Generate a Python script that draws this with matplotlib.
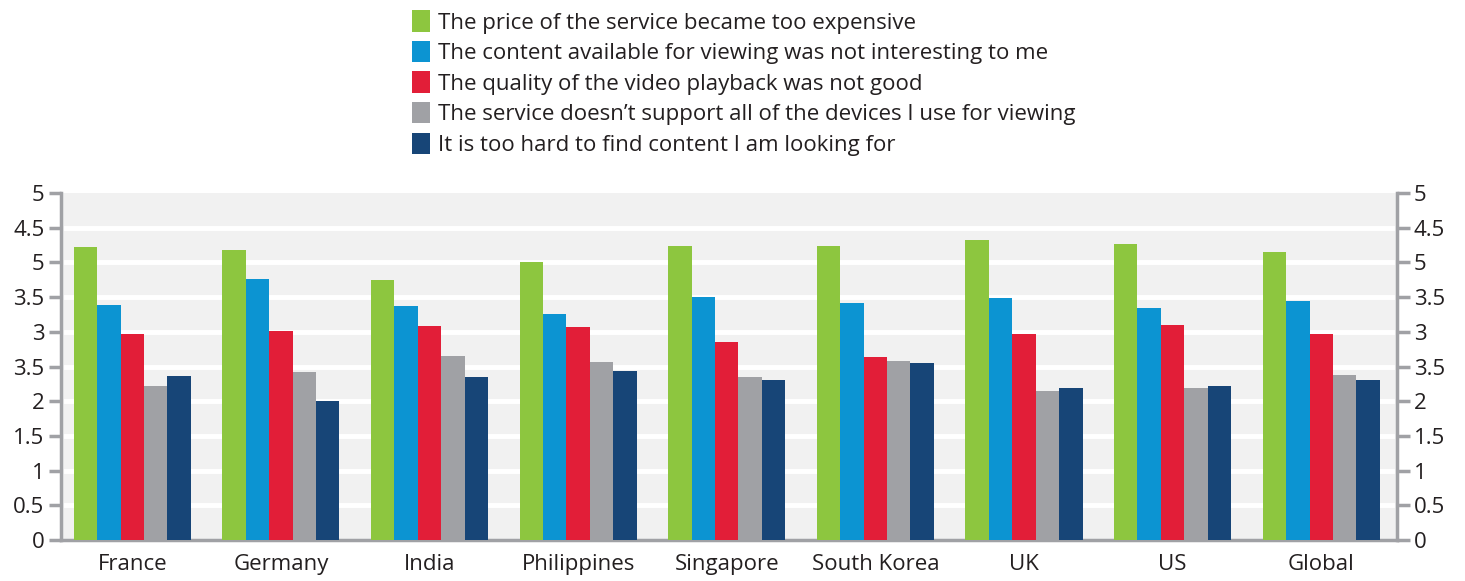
import numpy as np
import matplotlib
matplotlib.use("Agg")
import matplotlib.pyplot as plt

plt.rcParams['font.family'] = ['Open Sans', 'DejaVu Sans']

countries = ["France", "Germany", "India", "Philippines", "Singapore",
             "South Korea", "UK", "US", "Global"]
series_names = [
    "The price of the service became too expensive",
    "The content available for viewing was not interesting to me",
    "The quality of the video playback was not good",
    "The service doesn\u2019t support all of the devices I use for viewing",
    "It is too hard to find content I am looking for",
]
price = [4.22, 4.18, 3.75, 4.00, 4.24, 4.24, 4.32, 4.27, 4.15]
content = [3.39, 3.76, 3.37, 3.26, 3.50, 3.41, 3.49, 3.34, 3.44]
quality = [2.97, 3.01, 3.08, 3.07, 2.85, 2.64, 2.97, 3.10, 2.97]
devices = [2.22, 2.42, 2.65, 2.56, 2.35, 2.58, 2.15, 2.19, 2.38]
hard_to_find = [2.36, 2.00, 2.35, 2.43, 2.31, 2.55, 2.19, 2.22, 2.31]
colors = ["#8DC63F", "#0C94D2", "#E21E38", "#A0A1A5", "#174577"]

# tick labels as printed in the source (including its odd ones)
ytick_vals = [0, 0.5, 1, 1.5, 2, 2.5, 3, 3.5, 4, 4.5, 5]
ytick_labels = ["0", "0.5", "1", "1.5", "2", "3.5", "3", "3.5", "5", "4.5", "5"]

fig = plt.figure(figsize=(14.65, 5.81), dpi=100)
ax = fig.add_axes([0.0416, 0.0706, 0.912, 0.597])
ax.set_facecolor("#F1F1F1")

x = np.arange(len(countries))
w = 0.1575
all_series = [price, content, quality, devices, hard_to_find]
for i, vals in enumerate(all_series):
    ax.bar(x + (i - 2) * w, vals, width=w, color=colors[i],
           label=series_names[i], zorder=3)

ax.set_xlim(-0.48, 8.51)
ax.set_ylim(0, 5)
ax.set_yticks(ytick_vals)
ax.set_yticklabels(ytick_labels)
ax.set_xticks(x)
ax.set_xticklabels(countries)

for v in ytick_vals[1:-1]:
    ax.axhline(v, xmin=0.004, xmax=0.996, color="white", lw=3.5, zorder=1)

gray = "#A0A1A5"
for s in ["left", "right", "bottom"]:
    ax.spines[s].set_color(gray)
    ax.spines[s].set_linewidth(2.5)
ax.spines["top"].set_visible(False)

ax.tick_params(axis="y", which="both", left=True, right=True,
               labelleft=True, labelright=True, length=9, width=2.5,
               color=gray, labelsize=16, labelcolor="#231F20", pad=3)
ax.tick_params(axis="x", length=0, labelsize=16, labelcolor="#231F20", pad=10)

fig.legend(loc="upper left", bbox_to_anchor=(0.2707, 1.009), frameon=False,
           fontsize=16, handlelength=0.82, handleheight=1.1,
           handletextpad=0.35, labelspacing=0.33, borderpad=0.2,
           labelcolor="#231F20")

fig.savefig("out.png", dpi=100)
